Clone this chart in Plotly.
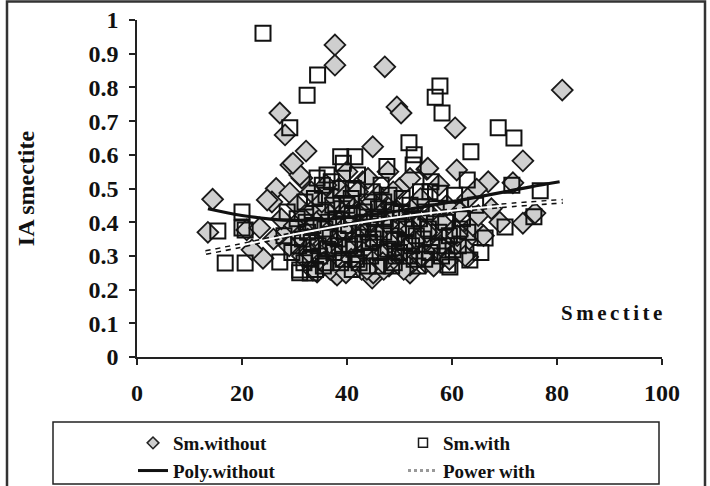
import plotly.graph_objects as go

# ---- data ----
without_x = [37.7, 37.7, 47.2, 49.5, 50.3, 81.0, 60.6, 73.5, 27.2, 28.2, 32.2, 29.3, 31.4, 26.5, 25.7,
             14.4, 13.5, 44.9, 55.2, 60.9, 66.9, 71.6, 64.7, 73.5, 75.8, 69.1, 20.9, 23.4, 24.0, 21.9,
             24.8, 29.1, 28.6, 33.5, 37.7, 34.3, 44.8, 52.0, 52.0, 45.0, 38.1, 63.0, 63.4, 31.0, 29.7,
             55.4,
             30.5, 32.0, 33.0, 34.5, 35.0, 35.8, 36.5, 37.0, 38.0, 38.5, 39.0, 39.5, 40.2, 40.5, 41.0,
             41.5, 42.0, 42.5, 43.0, 43.5, 44.0, 44.5, 45.0, 45.5, 46.0, 46.5, 47.0, 47.5, 48.0, 48.5,
             49.0, 49.5, 50.0, 50.5, 51.0, 51.5, 52.5, 53.0, 53.5, 54.0, 54.5, 55.0, 56.0, 56.5, 57.0,
             57.5, 58.0, 58.5, 59.0, 60.0, 60.5, 61.5, 62.0, 63.0, 64.0, 65.0, 66.0, 67.5, 34.0, 36.0,
             31.5, 32.5, 33.8, 40.0, 44.0, 47.8, 52.0, 27.5, 29.0, 30.0, 26.0, 42.8, 47.0, 56.5, 59.5,
             38.5, 43.0, 48.0, 46.0, 41.0, 36.0, 50.0,
             31.0, 32.8, 34.2, 35.5, 36.2, 37.2, 38.2, 39.2, 40.0, 40.8, 41.8, 42.2, 43.2, 44.2, 45.2,
             46.2, 47.2, 48.2, 49.2, 50.2, 51.2, 52.2, 53.2, 54.2, 55.2, 33.2, 35.2, 37.8, 39.8, 42.0,
             44.8, 48.8, 36.8, 39.8, 43.8, 46.8, 50.8, 57.8, 61.0, 62.5]
without_y = [0.926, 0.866, 0.861, 0.742, 0.724, 0.792, 0.680, 0.582, 0.724, 0.659, 0.611, 0.570, 0.531, 0.500, 0.460,
             0.468, 0.370, 0.624, 0.557, 0.555, 0.520, 0.517, 0.498, 0.397, 0.427, 0.400, 0.377, 0.383, 0.293, 0.318,
             0.466, 0.487, 0.372, 0.258, 0.249, 0.252, 0.234, 0.249, 0.273, 0.249, 0.243, 0.297, 0.357, 0.540, 0.575,
             0.560,
             0.45, 0.42, 0.38, 0.47, 0.33, 0.40, 0.29, 0.44, 0.36, 0.50, 0.31, 0.42, 0.27, 0.38, 0.46,
             0.34, 0.30, 0.41, 0.52, 0.37, 0.28, 0.44, 0.33, 0.39, 0.48, 0.30, 0.42, 0.35, 0.27, 0.45,
             0.38, 0.32, 0.50, 0.41, 0.29, 0.36, 0.44, 0.31, 0.39, 0.47, 0.34, 0.28, 0.42, 0.37, 0.31,
             0.51, 0.40, 0.35, 0.45, 0.30, 0.38, 0.43, 0.33, 0.47, 0.39, 0.42, 0.36, 0.44, 0.36, 0.51,
             0.30, 0.35, 0.44, 0.55, 0.53, 0.55, 0.53, 0.41, 0.33, 0.39, 0.35, 0.26, 0.26, 0.27, 0.29,
             0.40, 0.43, 0.39, 0.36, 0.40, 0.37, 0.34,
             0.36, 0.31, 0.40, 0.28, 0.43, 0.33, 0.30, 0.38, 0.33, 0.29, 0.43, 0.35, 0.31, 0.40, 0.29,
             0.42, 0.31, 0.34, 0.43, 0.37, 0.32, 0.38, 0.35, 0.30, 0.37, 0.49, 0.46, 0.47, 0.48, 0.49,
             0.46, 0.49, 0.26, 0.25, 0.26, 0.28, 0.26, 0.33, 0.36, 0.30]

with_x = [24.0, 34.4, 32.4, 29.1, 57.7, 56.8, 58.1, 68.8, 71.8, 63.6, 51.8, 52.8, 38.8, 41.5, 76.8,
          71.4, 75.6, 70.1, 66.3, 20.0, 15.4, 20.6, 16.8, 20.6, 31.0, 20.0, 27.2, 28.6, 31.0, 34.3,
          36.2, 39.3, 47.6, 52.6, 62.9, 55.8, 57.7, 60.2, 59.2, 59.6, 63.4, 33.0,
          28.0, 29.5, 30.5, 31.5, 32.0, 33.0, 33.5, 34.5, 35.0, 35.5, 36.0, 36.8, 37.5, 38.0, 38.8,
          39.5, 40.0, 40.5, 41.2, 41.8, 42.5, 43.0, 43.8, 44.5, 45.2, 45.8, 46.5, 47.0, 47.8, 48.5,
          49.0, 49.8, 50.5, 51.0, 51.8, 52.5, 53.2, 54.0, 54.8, 55.5, 56.2, 57.0, 58.0, 58.8, 59.5,
          60.5, 61.2, 62.0, 63.0, 64.5, 65.5, 34.0, 37.0, 39.0, 42.0, 44.0, 46.0, 48.0, 50.0, 52.0,
          53.5, 56.0, 36.5, 41.0, 45.0, 49.0, 55.0, 38.5, 43.0, 32.5,
          30.8, 32.2, 33.2, 34.8, 35.8, 36.3, 37.3, 38.3, 39.3, 40.3, 41.3, 42.3, 43.3, 44.3, 45.5,
          46.3, 47.3, 48.3, 49.3, 50.3, 51.3, 52.3, 53.8, 54.5, 55.8, 57.5, 59.0, 61.5, 33.8, 35.3,
          38.8, 40.8, 44.8, 47.0, 31.8, 36.0, 41.0, 44.0, 48.5, 52.8]
with_y = [0.961, 0.837, 0.777, 0.680, 0.804, 0.771, 0.724, 0.680, 0.650, 0.609, 0.636, 0.600, 0.594, 0.594, 0.493,
          0.510, 0.416, 0.386, 0.353, 0.430, 0.374, 0.377, 0.279, 0.279, 0.250, 0.383, 0.282, 0.430, 0.258, 0.531,
          0.540, 0.575, 0.565, 0.570, 0.525, 0.490, 0.486, 0.318, 0.273, 0.267, 0.288, 0.249,
          0.36, 0.31, 0.41, 0.35, 0.46, 0.29, 0.39, 0.33, 0.43, 0.27, 0.48, 0.36, 0.31, 0.41, 0.28,
          0.37, 0.45, 0.33, 0.50, 0.29, 0.38, 0.34, 0.46, 0.30, 0.41, 0.27, 0.51, 0.37, 0.32, 0.43,
          0.28, 0.39, 0.47, 0.34, 0.30, 0.41, 0.36, 0.49, 0.29, 0.38, 0.33, 0.44, 0.30, 0.40, 0.36,
          0.48, 0.33, 0.41, 0.37, 0.45, 0.31, 0.26, 0.52, 0.44, 0.54, 0.37, 0.44, 0.48, 0.31, 0.45,
          0.27, 0.52, 0.40, 0.42, 0.35, 0.35, 0.43, 0.33, 0.40, 0.37,
          0.33, 0.40, 0.34, 0.30, 0.38, 0.32, 0.45, 0.35, 0.29, 0.39, 0.32, 0.28, 0.43, 0.34, 0.38,
          0.31, 0.41, 0.36, 0.30, 0.43, 0.38, 0.33, 0.41, 0.35, 0.31, 0.37, 0.33, 0.38, 0.47, 0.51,
          0.50, 0.47, 0.49, 0.46, 0.28, 0.28, 0.26, 0.27, 0.27, 0.29]

poly_x = [13.5, 20, 25, 30, 35, 40, 45, 50, 55, 60, 65, 70, 75, 80.5]
poly_y = [0.440, 0.420, 0.410, 0.405, 0.408, 0.414, 0.423, 0.434, 0.447, 0.461, 0.475, 0.490, 0.505, 0.520]

power_x = [13.1, 19.6, 26, 34.3, 43.8, 56.4, 69, 81.1]
power_y = [0.310, 0.330, 0.352, 0.377, 0.402, 0.428, 0.448, 0.462]

x_ticks = [0, 20, 40, 60, 80, 100]
y_ticks = [0, 0.1, 0.2, 0.3, 0.4, 0.5, 0.6, 0.7, 0.8, 0.9, 1]

# ---- layout geometry (px) ----
W, H = 710, 486
L, R, T, B = 137, 48, 20, 129
pw, ph = W - L - R, H - T - B


def px_x(p):
    return (p - L) / pw


def px_y(p):
    return (H - B - p) / ph


FONT = "Liberation Serif"

fig = go.Figure()

fig.add_trace(go.Scatter(x=without_x, y=without_y, mode="markers", name="Sm.without", showlegend=False,
                         marker=dict(symbol="diamond", size=16, color="#cfcfcf",
                                     line=dict(color="#1a1a1a", width=1.8))))
fig.add_trace(go.Scatter(x=with_x, y=with_y, mode="markers", name="Sm.with", showlegend=False,
                         marker=dict(symbol="square-open", size=15, color="#111111",
                                     line=dict(color="#111111", width=2))))
fig.add_trace(go.Scatter(x=poly_x, y=poly_y, mode="lines", name="Poly.without", showlegend=False,
                         line=dict(color="#111111", width=3.2, shape="spline")))
fig.add_trace(go.Scatter(x=power_x, y=power_y, mode="lines", name="Power with", showlegend=False,
                         line=dict(color="#111111", width=5, dash="dot", shape="spline")))
fig.add_trace(go.Scatter(x=power_x, y=power_y, mode="lines", showlegend=False, hoverinfo="skip",
                         line=dict(color="#ffffff", width=2, shape="spline")))

# legend entries
fig.add_trace(go.Scatter(x=[None], y=[None], mode="markers", name="Sm.without",
                         marker=dict(symbol="diamond", size=9, color="#cfcfcf",
                                     line=dict(color="#222222", width=1.5))))
fig.add_trace(go.Scatter(x=[None], y=[None], mode="markers", name="Sm.with",
                         marker=dict(symbol="square-open", size=9, color="#1a1a1a",
                                     line=dict(color="#1a1a1a", width=1.5))))
fig.add_trace(go.Scatter(x=[None], y=[None], mode="lines", name="Poly.without",
                         line=dict(color="#111111", width=3)))
fig.add_trace(go.Scatter(x=[None], y=[None], mode="lines", name="Power with",
                         line=dict(color="#999999", width=3, dash="dot")))

axis_common = dict(showgrid=False, zeroline=False, showline=True, linecolor="#222222", linewidth=1.5,
                   ticks="outside", ticklen=6, tickwidth=1.5, tickcolor="#222222",
                   tickfont=dict(family=FONT, size=24, color="#111111", weight="bold"))

fig.update_layout(
    width=W, height=H,
    margin=dict(l=L, r=R, t=T, b=B, autoexpand=False),
    paper_bgcolor="white", plot_bgcolor="white",
    xaxis=dict(range=[0, 100], tickvals=x_ticks, ticklabelstandoff=7, **axis_common),
    yaxis=dict(range=[0, 1], tickvals=y_ticks, ticklabelstandoff=6,
               title=dict(text="IA smectite", standoff=47,
                          font=dict(family=FONT, size=24, color="#111111", weight="bold")),
               **axis_common),
    legend=dict(orientation="h", x=px_x(133), y=px_y(424), xanchor="left", yanchor="top",
                entrywidth=225, bgcolor="rgba(0,0,0,0)", borderwidth=0,
                font=dict(family=FONT, size=19, color="#111111", weight="bold")),
    showlegend=True,
    annotations=[dict(x=90.3, y=0.131, xref="x", yref="y", showarrow=False,
                      text="S\u2006m\u2006e\u2006c\u2006t\u2006i\u2006t\u2006e",
                      font=dict(family=FONT, size=21, color="#111111", weight="bold"))],
    shapes=[
        dict(type="rect", xref="paper", yref="paper", x0=px_x(7), x1=px_x(705), y0=px_y(492), y1=px_y(1.5),
             line=dict(color="#333333", width=2.5), fillcolor="rgba(0,0,0,0)", layer="below"),
        dict(type="rect", xref="paper", yref="paper", x0=px_x(53), x1=px_x(659), y0=px_y(484), y1=px_y(422),
             line=dict(color="#222222", width=1.5), fillcolor="rgba(0,0,0,0)", layer="above"),
    ],
)

fig.write_html("out.html")
